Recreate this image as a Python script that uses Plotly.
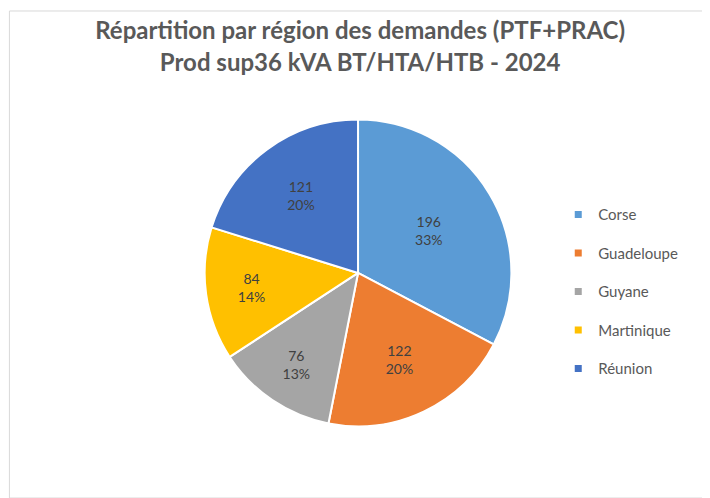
import plotly.graph_objects as go

regions = ["Corse", "Guadeloupe", "Guyane", "Martinique", "Réunion"]
demandes = [196, 122, 76, 84, 121]
colors = ["#5B9BD5", "#ED7D31", "#A5A5A5", "#FFC000", "#4472C4"]

total = sum(demandes)
texts = [f"{v}<br>{round(100 * v / total)}%" for v in demandes]

fig = go.Figure()
fig.add_trace(go.Pie(
    labels=regions, values=demandes, text=texts,
    textinfo="text", textposition="inside", insidetextorientation="horizontal",
    sort=False, direction="clockwise", rotation=0,
    marker=dict(colors=colors, line=dict(color="white", width=2)),
    textfont=dict(family="Lato, Carlito, sans-serif", size=14, color="#404040"),
    domain=dict(x=[0.276, 0.710], y=[0.160, 0.776]),
    showlegend=False, hoverinfo="label+value+percent",
))

for name, col in zip(regions, colors):
    fig.add_trace(go.Scatter(
        x=[None], y=[None], mode="markers", name=name,
        marker=dict(symbol="square", size=7, color=col),
        legendgroup=name, showlegend=True,
    ))

fig.update_layout(
    width=710, height=498,
    margin=dict(l=0, r=0, t=0, b=0),
    paper_bgcolor="white", plot_bgcolor="white",
    title=dict(
        text="Répartition par région des demandes (PTF+PRAC)<br>Prod sup36 kVA BT/HTA/HTB - 2024",
        x=0.496, xanchor="center", y=0.937, yanchor="middle",
        font=dict(family="Lato, Carlito, sans-serif", size=24, color="#595959", weight="bold"),
    ),
    xaxis=dict(visible=False), yaxis=dict(visible=False),
    legend=dict(
        x=0.775, y=0.43, xanchor="left", yanchor="middle",
        font=dict(family="Lato, Carlito, sans-serif", size=15, color="#595959"),
        tracegroupgap=16, itemwidth=30, bgcolor="rgba(0,0,0,0)",
    ),
    shapes=[dict(type="rect", xref="paper", yref="paper", x0=0.002, x1=0.997, y0=0.016, y1=0.994,
                 line=dict(color="#D9D9D9", width=1))],
)

fig.write_html("out.html")
